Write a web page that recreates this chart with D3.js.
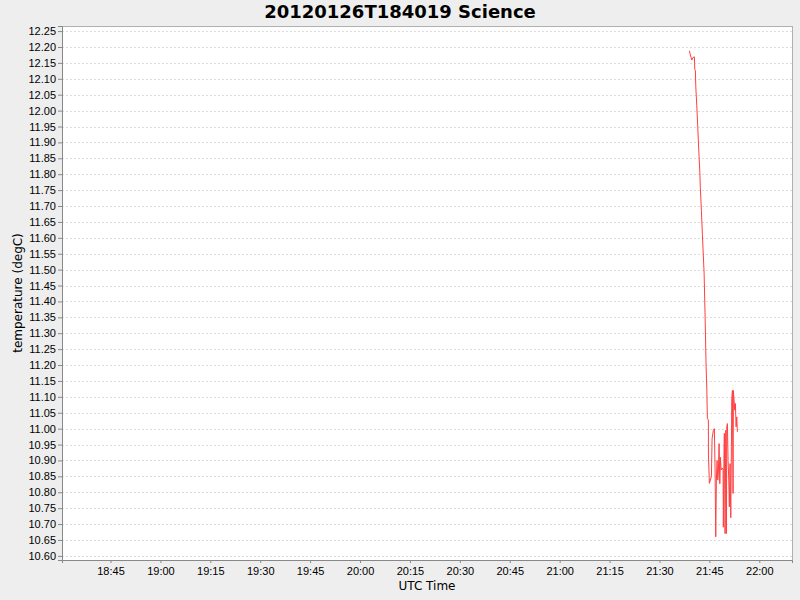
<!DOCTYPE html>
<html lang="en">
<head>
<meta charset="UTF-8" />
<title>20120126T184019 Science</title>
<script src="https://d3js.org/d3.v7.min.js"></script>
<style>
  html, body { margin: 0; padding: 0; background: #eeeeee; }
  svg { display: block; font-family: "DejaVu Sans", sans-serif; }
  .tick-label { font-size: 11px; fill: #000; }
  .axis-label { font-size: 12px; fill: #000; }
  .title { font-size: 18px; font-weight: bold; fill: #000; }
</style>
</head>
<body>
<div id="chart"></div>
<script>
// data (UTC, 2012-01-26)
const chartTitle = "20120126T184019 Science";
const xLabel = "UTC Time";
const yLabel = "temperature (degC)";
const xDomain = ["18:30:25", "22:09:50"];
const yDomain = [10.587, 12.266];

const times = [
  "21:38:59", "21:39:17", "21:39:43", "21:40:06", "21:40:29", "21:40:37", "21:40:48",
  "21:40:55", "21:41:13", "21:41:31", "21:41:49", "21:42:07", "21:42:17", "21:42:36",
  "21:42:54", "21:43:25", "21:43:43", "21:44:01", "21:44:13", "21:44:24", "21:44:42",
  "21:44:43", "21:45:00", "21:45:18", "21:45:36", "21:45:49", "21:46:12", "21:46:30",
  "21:46:43", "21:46:55", "21:47:06", "21:47:19", "21:47:31", "21:47:42", "21:47:55",
  "21:48:08", "21:48:19", "21:48:31", "21:48:44", "21:49:07", "21:49:12", "21:49:25",
  "21:49:30", "21:49:43", "21:49:56", "21:50:07", "21:50:14", "21:50:25", "21:50:37",
  "21:50:50", "21:51:00", "21:51:13", "21:51:26", "21:51:37", "21:51:44", "21:51:55",
  "21:52:07", "21:52:13", "21:52:25", "21:52:38", "21:52:49", "21:53:02", "21:53:14",
  "21:53:25"
];
const temps = [
  12.188, 12.175, 12.159, 12.167, 12.169, 12.130, 12.125,
  12.075, 12.015, 11.947, 11.874, 11.810, 11.758, 11.685,
  11.611, 11.488, 11.350, 11.194, 11.131, 11.032, 11.027,
  10.920, 10.828, 10.838, 10.850, 10.969, 10.995, 11.000,
  10.870, 10.660, 10.838, 10.900, 10.838, 10.860, 10.953,
  10.827, 10.910, 10.870, 10.875, 10.875, 10.690, 10.943,
  10.985, 10.670, 10.995, 10.670, 11.006, 11.016, 10.900,
  10.838, 10.754, 10.890, 10.720, 10.943, 11.090, 11.120,
  10.796, 11.120, 11.090, 11.058, 11.079, 11.006, 11.037,
  10.990
];

const W = 800, H = 600;
const plot = { left: 62, top: 26, right: 792, bottom: 560 };

const parseT = s => new Date("2012-01-26T" + s + "Z");
const data = times.map((t, i) => ({ t: parseT(t), v: temps[i] }));

const svg = d3.select("#chart").append("svg")
  .attr("width", W).attr("height", H);

svg.append("rect").attr("width", W).attr("height", H).attr("fill", "#eeeeee");

const x = d3.scaleUtc()
  .domain(xDomain.map(parseT))
  .range([plot.left, plot.right]);

const y = d3.scaleLinear()
  .domain(yDomain)
  .range([plot.bottom, plot.top]);

// plot background
svg.append("rect")
  .attr("x", plot.left).attr("y", plot.top)
  .attr("width", plot.right - plot.left).attr("height", plot.bottom - plot.top)
  .attr("fill", "#ffffff")
  .attr("stroke", "#b0b0b0").attr("stroke-width", 1)
  .attr("shape-rendering", "crispEdges");

// y ticks every 0.05
const yTicks = d3.range(212, 246).map(k => k * 0.05);

// horizontal gridlines
svg.append("g").selectAll("line").data(yTicks).enter().append("line")
  .attr("x1", plot.left).attr("x2", plot.right)
  .attr("y1", d => Math.round(y(d)) + 0.5).attr("y2", d => Math.round(y(d)) + 0.5)
  .attr("stroke", "#dcdcdc").attr("stroke-width", 1)
  .attr("stroke-dasharray", "2,2");

// y axis
const yAxis = svg.append("g")
  .attr("transform", `translate(${plot.left},0)`)
  .call(d3.axisLeft(y).tickValues(yTicks).tickFormat(d3.format(".2f")).tickSize(4).tickPadding(2));
yAxis.select(".domain").attr("stroke", "#888888");
yAxis.selectAll(".tick line").attr("stroke", "#888888");
yAxis.selectAll(".tick text").attr("class", "tick-label").attr("font-family", null).attr("font-size", null);

// x axis
const xAxis = svg.append("g")
  .attr("transform", `translate(0,${plot.bottom})`)
  .call(d3.axisBottom(x).ticks(d3.utcMinute.every(15)).tickFormat(d3.utcFormat("%H:%M")).tickSize(3).tickPadding(4));
xAxis.select(".domain").attr("stroke", "#888888");
xAxis.selectAll(".tick line").attr("stroke", "#888888");
xAxis.selectAll(".tick text").attr("class", "tick-label").attr("font-family", null).attr("font-size", null);

// series line
svg.append("path")
  .datum(data)
  .attr("fill", "none")
  .attr("stroke", "#ff4040")
  .attr("stroke-width", 1)
  .attr("d", d3.line().x(d => x(d.t)).y(d => y(d.v)));

// title
svg.append("text")
  .attr("class", "title")
  .attr("x", W / 2).attr("y", 18)
  .attr("text-anchor", "middle")
  .text(chartTitle);

// axis labels
svg.append("text")
  .attr("class", "axis-label")
  .attr("x", (plot.left + plot.right) / 2).attr("y", 590)
  .attr("text-anchor", "middle")
  .text(xLabel);

svg.append("text")
  .attr("class", "axis-label")
  .attr("transform", `translate(22,${(plot.top + plot.bottom) / 2}) rotate(-90)`)
  .attr("text-anchor", "middle")
  .text(yLabel);
</script>
</body>
</html>
